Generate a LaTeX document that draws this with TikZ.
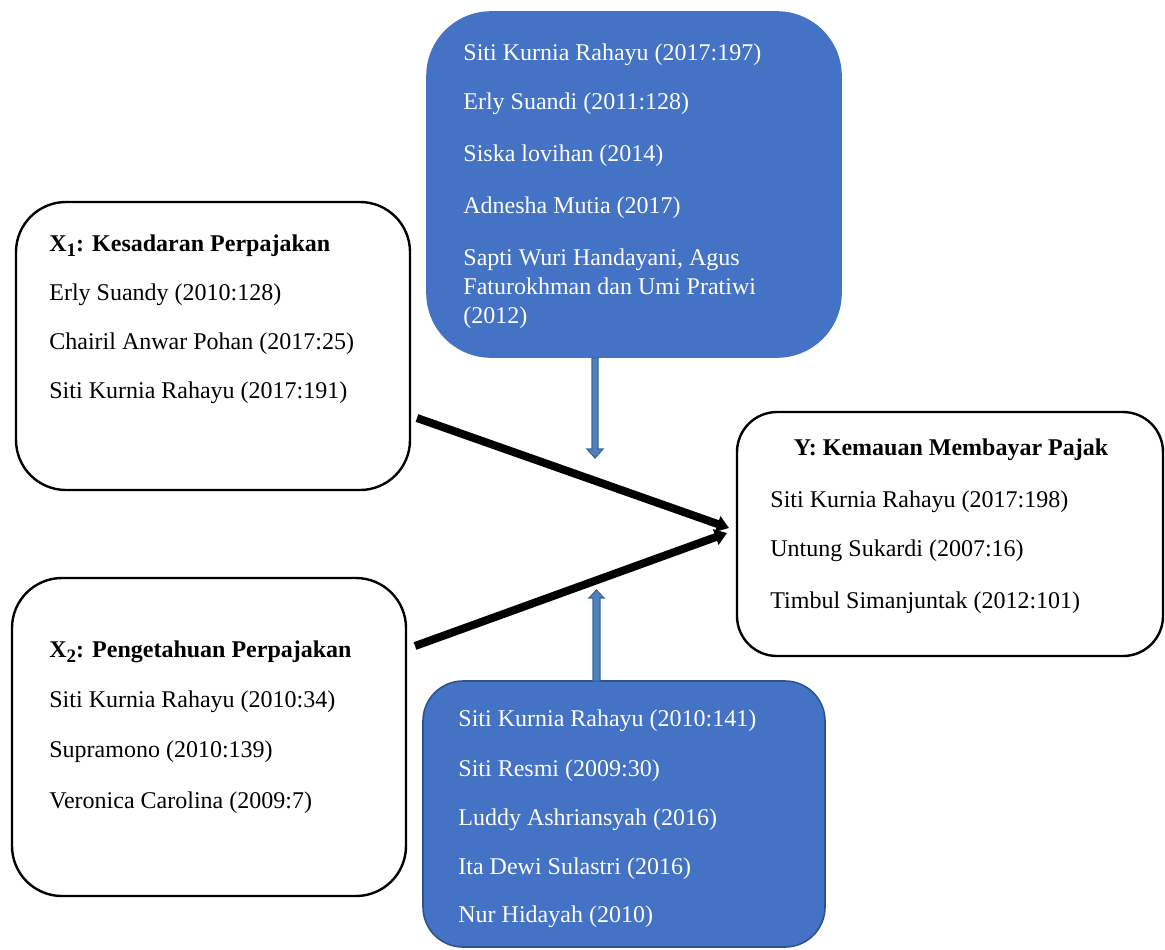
\documentclass[tikz,border=0pt]{standalone}
\usepackage{fontspec}
\setmainfont{Liberation Serif}
\usetikzlibrary{arrows.meta}
\definecolor{boxblue}{HTML}{4472C4}
\definecolor{boxblueedge}{HTML}{2F528F}
\definecolor{arrfill}{HTML}{4F81BD}
\definecolor{arredge}{HTML}{3A679C}
\newcommand{\mysub}[1]{\raisebox{-2.8pt}{\fontsize{9.5}{9.5}\selectfont #1}}
\tikzset{
  whitebox/.style={draw=black, line width=1.2pt, fill=white, inner sep=0pt},
  bluebox/.style={draw=boxblueedge, line width=0.8pt, fill=boxblue, inner sep=0pt},
  txt/.style={inner sep=0pt, anchor=north west, align=left, font=\fontsize{12}{14.5}\selectfont},
  wtxt/.style={txt, text=white},
  bigarrow/.style={line width=4pt, -{Triangle[length=6pt,width=8pt]}},
  blockarrow/.style={fill=arrfill, draw=arredge, line width=0.6pt, line join=miter}
}
\begin{document}
\begin{tikzpicture}[x=0.5pt, y=-0.5pt]
\useasboundingbox (0,0) rectangle (1165,949);

% boxes
\node[whitebox, rounded corners=25pt, minimum width=197pt, minimum height=144pt] (x1) at (213,346) {};
\node[whitebox, rounded corners=25pt, minimum width=197pt, minimum height=159pt] (x2) at (209,737) {};
\node[bluebox, draw=boxblue, rounded corners=32pt, minimum width=207pt, minimum height=172.5pt] (top) at (634,184.5) {};
\node[bluebox, rounded corners=20pt, minimum width=201pt, minimum height=133pt] (bot) at (624,814) {};
\node[whitebox, rounded corners=20pt, minimum width=213pt, minimum height=122pt] (y) at (950,534) {};

% texts
\node[txt] (x1t) at (49,234) {\textbf{X\mysub{1}: Kesadaran Perpajakan}\\[10pt]
Erly Suandy (2010:128)\\[10pt]
Chairil Anwar Pohan (2017:25)\\[10pt]
Siti Kurnia Rahayu (2017:191)};

\node[txt] (x2t) at (49,640) {\textbf{X\mysub{2}: Pengetahuan Perpajakan}\\[10.5pt]
Siti Kurnia Rahayu (2010:34)\\[10.5pt]
Supramono (2010:139)\\[11pt]
Veronica Carolina (2009:7)};

\node[wtxt] (topt) at (463,43) {Siti Kurnia Rahayu (2017:197)\\[10pt]
Erly Suandi (2011:128)\\[11.5pt]
Siska lovihan (2014)\\[11.5pt]
Adnesha Mutia (2017)\\[11.5pt]
Sapti Wuri Handayani, Agus\\
Faturokhman dan Umi Pratiwi\\
(2012)};

\node[wtxt] (bott) at (458,709) {Siti Kurnia Rahayu (2010:141)\\[10.5pt]
Siti Resmi (2009:30)\\[10pt]
Luddy Ashriansyah (2016)\\[10pt]
Ita Dewi Sulastri (2016)\\[9.5pt]
Nur Hidayah (2010)};

\node[inner sep=0pt, font=\fontsize{12}{14.5}\selectfont\bfseries] (yh) at (951,450) {Y: Kemauan Membayar Pajak};
\node[txt] (yt) at (770,490) {Siti Kurnia Rahayu (2017:198)\\[10pt]
Untung Sukardi (2007:16)\\[11.5pt]
Timbul Simanjuntak (2012:101)};

% black arrows
\coordinate (a1s) at (417,418);
\coordinate (a1e) at (729,528);
\coordinate (a2s) at (415,646);
\coordinate (a2e) at (727,533);
\draw[bigarrow] (a1s) -- (a1e);
\draw[bigarrow] (a2s) -- (a2e);

% blue block arrows
\draw[blockarrow] (592,358) -- (592,449) -- (587,449) -- (595,458) -- (603,449) -- (598,449) -- (598,358) -- cycle;
\draw[blockarrow] (593,681) -- (593,598) -- (589,598) -- (596.5,590) -- (604,598) -- (600,598) -- (600,681) -- cycle;
\end{tikzpicture}
\end{document}
